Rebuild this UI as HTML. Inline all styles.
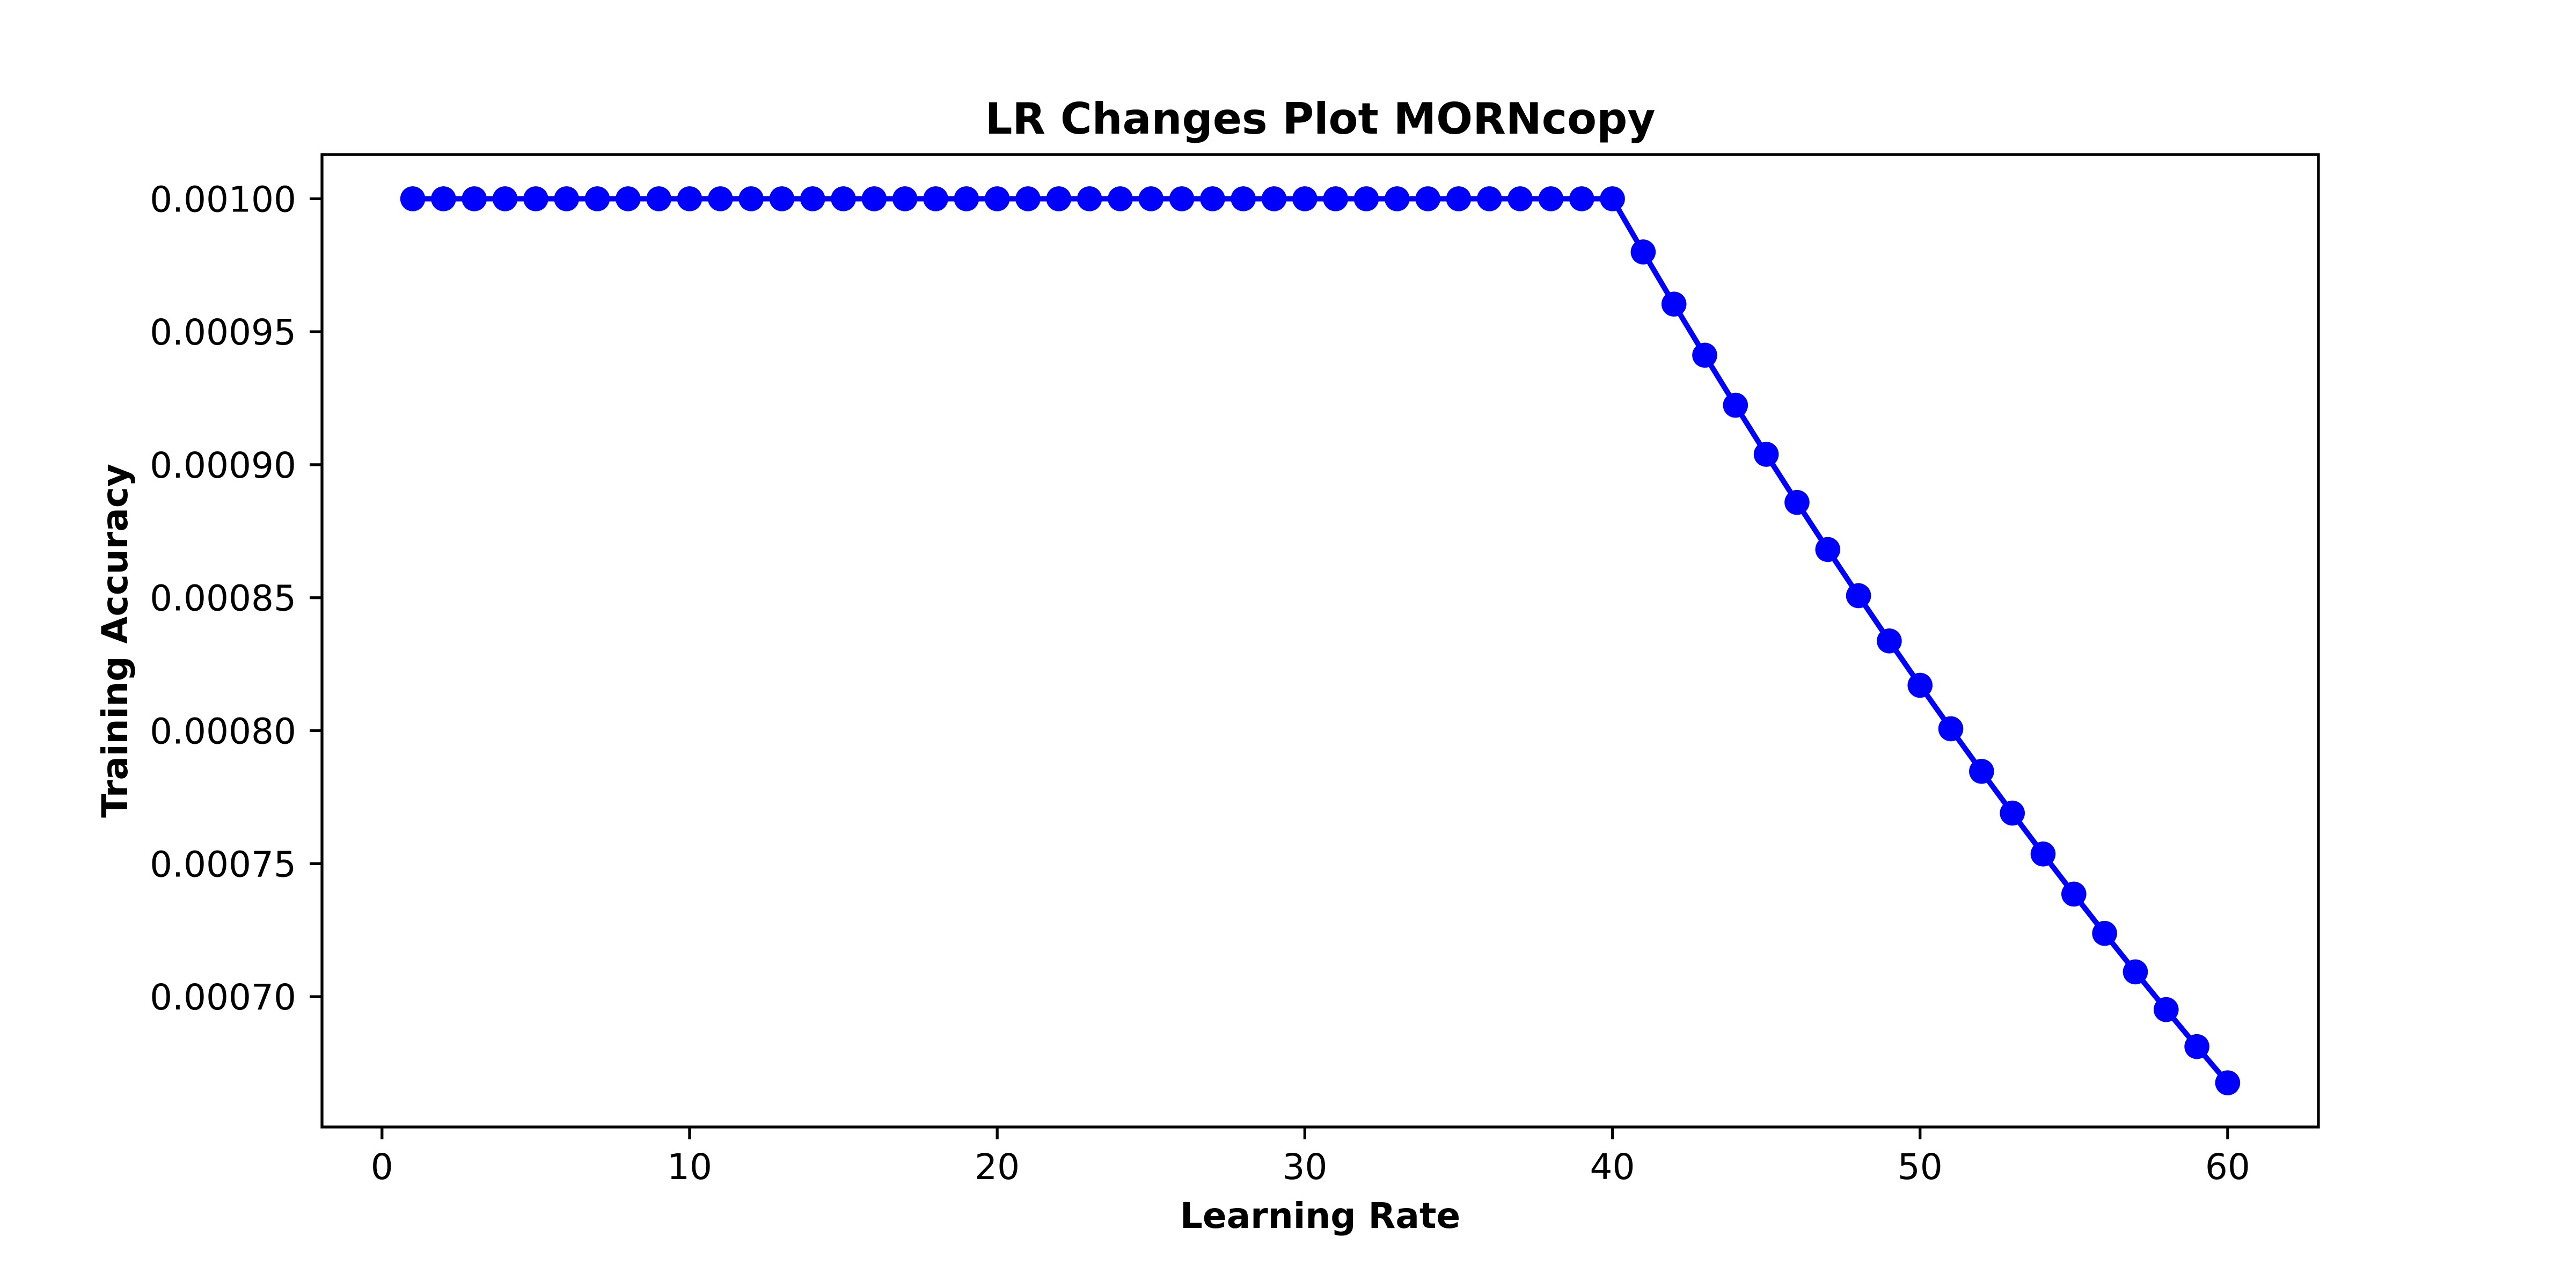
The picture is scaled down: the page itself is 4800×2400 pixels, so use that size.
<!DOCTYPE html>
<html><head><meta charset="utf-8"><style>
html,body{margin:0;padding:0;background:#fff}
svg{display:block}
text{font-family:"DejaVu Sans","Liberation Sans",sans-serif;fill:#000}
</style></head><body>
<svg id="chart" width="4800" height="2400" viewBox="0 0 4800 2400" xmlns="http://www.w3.org/2000/svg">
<rect x="0" y="0" width="4800" height="2400" fill="#fff"/>
<g id="plot"></g>
<g id="xaxis"></g>
<g id="yaxis"></g>
<rect x="600" y="288" width="3720" height="1812" fill="none" stroke="#000" stroke-width="5.3"/>
<text x="2460" y="249" font-size="80" font-weight="bold" text-anchor="middle">LR Changes Plot MORNcopy</text>
<text x="2460" y="2288" font-size="66" font-weight="bold" text-anchor="middle">Learning Rate</text>
<text x="0" y="0" font-size="66" font-weight="bold" text-anchor="middle" transform="translate(237,1194) rotate(-90)">Training Accuracy</text>
</svg>
<script>
const epochs = [1,2,3,4,5,6,7,8,9,10,11,12,13,14,15,16,17,18,19,20,21,22,23,24,25,26,27,28,29,30,31,32,33,34,35,36,37,38,39,40,41,42,43,44,45,46,47,48,49,50,51,52,53,54,55,56,57,58,59,60];
const lrValues = [0.001,0.001,0.001,0.001,0.001,0.001,0.001,0.001,0.001,0.001,0.001,0.001,0.001,0.001,0.001,0.001,0.001,0.001,0.001,0.001,0.001,0.001,0.001,0.001,0.001,0.001,0.001,0.001,0.001,0.001,0.001,0.001,0.001,0.001,0.001,0.001,0.001,0.001,0.001,0.001,
0.00098,0.0009604,0.00094119,0.00092237,0.00090392,0.00088584,0.00086813,0.00085076,0.00083375,0.00081707,0.00080073,0.00078472,0.00076902,0.00075364,0.00073857,0.0007238,0.00070932,0.00069514,0.00068123,0.00066761];
const xTicks = [0,10,20,30,40,50,60];
const xTickLabels = ["0","10","20","30","40","50","60"];
const yTicks = [0.0007,0.00075,0.0008,0.00085,0.0009,0.00095,0.001];
const yTickLabels = ["0.00070","0.00075","0.00080","0.00085","0.00090","0.00095","0.00100"];

const NS="http://www.w3.org/2000/svg";
const L=600,R=4320,T=288,B=2100;
const xmin0=Math.min(...epochs),xmax0=Math.max(...epochs);
const ymin0=Math.min(...lrValues),ymax0=Math.max(...lrValues);
const xm=(xmax0-xmin0)*0.05, ym=(ymax0-ymin0)*0.05;
const xlo=xmin0-xm,xhi=xmax0+xm,ylo=ymin0-ym,yhi=ymax0+ym;
function sx(v){return L+(v-xlo)/(xhi-xlo)*(R-L);}
function sy(v){return B-(v-ylo)/(yhi-ylo)*(B-T);}
function mk(tag,attrs,parent){const e=document.createElementNS(NS,tag);for(const k in attrs)e.setAttribute(k,attrs[k]);parent.appendChild(e);return e;}

const plot=document.getElementById('plot');
const pts=epochs.map((x,i)=>sx(x).toFixed(2)+","+sy(lrValues[i]).toFixed(2)).join(" ");
const line=mk('polyline',{points:pts,fill:'none',stroke:'#0000ff','stroke-width':10,'stroke-linejoin':'round'},plot);


epochs.forEach((x,i)=>{
  const c=mk('circle',{cx:sx(x),cy:sy(lrValues[i]),r:23.3,fill:'#0000ff'},plot);
  
  
});

const xa=document.getElementById('xaxis');
xTicks.forEach((v,i)=>{
  const x=sx(v);
  const t=mk('line',{x1:x,x2:x,y1:B,y2:B+23,stroke:'#000','stroke-width':5.3},xa);
  
  
  const tx=mk('text',{x:x,y:2197,'font-size':66,'text-anchor':'middle'},xa);
  tx.textContent=xTickLabels[i];
  
  
});
const ya=document.getElementById('yaxis');
yTicks.forEach((v,i)=>{
  const y=sy(v);
  const t=mk('line',{x1:L-23,x2:L,y1:y,y2:y,stroke:'#000','stroke-width':5.3},ya);
  
  
  const tx=mk('text',{x:552,y:y+24,'font-size':66,'text-anchor':'end'},ya);
  tx.textContent=yTickLabels[i];
  
  
});
</script>
</body></html>
